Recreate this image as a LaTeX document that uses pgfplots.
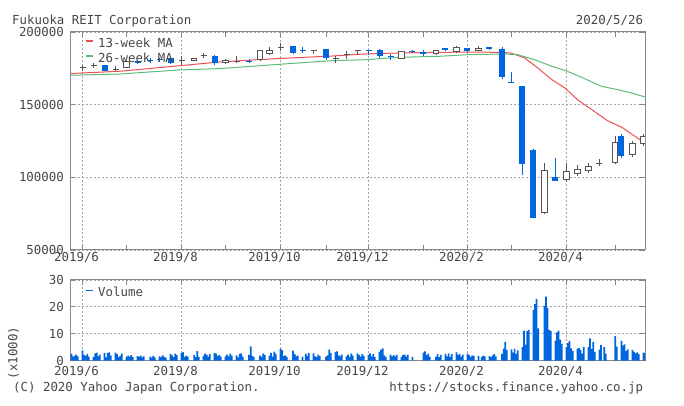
\documentclass[border=0pt]{standalone}
\usepackage{pgfplots}
\pgfplotsset{compat=1.18}
\usepackage{pgfplotstable}
\usepackage{fontspec}
\setmainfont{DejaVu Sans Mono}
\definecolor{cblue}{RGB}{0,102,221}
\definecolor{cgray}{RGB}{85,85,85}
\definecolor{cred}{RGB}{236,80,80}
\definecolor{cgreen}{RGB}{90,190,120}
\definecolor{framec}{RGB}{136,136,136}
\definecolor{gridc}{RGB}{165,165,165}
\definecolor{txt}{RGB}{70,70,70}
\newcommand\cf{\fontsize{12.4}{14}\selectfont}

% weekly candles, values in thousands of yen; d = days since 2019-06-03
\pgfplotstableread{
d open high low close
14 177.1 177.3 173.2 173.4
35 180.0 180.9 177.9 178.5
43 180.6 182.1 178.7 179.8
49 181.3 181.8 179.5 180.5
56 182.0 182.6 178.0 178.9
84 183.3 184.0 177.5 178.7
106 180.2 181.6 178.7 179.4
134 190.2 190.4 185.2 185.5
140 187.8 189.5 185.5 187.0
155 188.3 188.5 181.0 182.1
182 187.8 187.8 184.4 187.0
189 187.8 188.3 182.1 183.3
196 183.7 184.9 180.9 182.9
210 186.9 187.4 185.5 186.1
217 186.0 187.8 183.3 185.2
231 188.7 189.0 186.7 187.9
245 189.0 189.3 186.5 186.7
259 189.7 189.7 187.4 188.6
267 188.5 189.5 167.5 168.8
273 165.8 172.7 164.7 164.9
280 162.8 162.8 101.8 109.2
287 119.0 119.5 71.8 72.0
301 100.4 113.5 97.2 97.7
343 128.3 129.8 113.5 114.5
}\bluec

\pgfplotstableread{
d open high low close
28 175.7 180.0 175.5 179.8
71 180.4 182.3 180.0 181.9
91 178.9 181.3 178.3 180.5
113 181.0 187.3 180.3 187.1
119 185.5 189.5 184.0 187.3
203 182.1 187.1 181.8 186.7
225 185.0 187.4 184.4 187.1
238 186.7 190.2 185.5 189.0
252 187.1 190.2 186.7 188.5
294 75.7 110.0 74.8 105.0
308 98.6 110.0 97.0 103.9
315 102.8 108.5 100.9 105.5
322 105.0 110.0 102.8 107.3
339 110.0 128.3 109.2 123.7
350 115.6 125.2 113.8 123.6
357 123.0 129.5 121.5 128.3
}\hollowc

\pgfplotstableread{
d open high low close
0 175.4 177.5 173.0 176.2
7 176.7 178.7 175.2 177.5
21 173.6 176.4 173.2 174.4
63 179.9 183.3 177.5 180.7
77 183.6 185.5 182.1 184.4
98 179.4 183.3 178.7 180.2
126 189.1 192.4 187.1 189.9
147 187.0 187.8 184.9 187.8
161 181.2 183.3 178.7 182.0
168 184.0 186.7 181.6 184.8
175 186.7 187.8 184.0 187.5
329 109.3 112.4 107.8 110.1
}\dojic

\pgfplotsset{
  chart/.style={
    scale only axis, width=575pt, xmin=-8, xmax=358,
    axis line style={draw=framec, line width=1pt},
    every tick/.style={draw=framec, line width=0.8pt},
    major tick length=5pt, minor tick length=5pt,
    tick align=inside,
    xtick={0,63,126,182,245,308},
    xticklabels={2019/6,2019/8,2019/10,2019/12,2020/2,2020/4},
    minor xtick={28,91,155,217,273,339},
    xmajorgrids=true, ymajorgrids=true,
    major grid style={draw=gridc, line width=0.8pt, dash pattern=on 1.5pt off 2.5pt},
    tick label style={font=\cf, text=txt},
    xticklabel style={inner sep=0pt, anchor=north, xshift=-6pt},
    yticklabel style={inner sep=0pt, anchor=east, xshift=-6pt},
    /pgf/number format/assume math mode=true,
    legend style={draw=none, fill=none, at={(rel axis cs:0,1)}, anchor=north west,
      font=\cf, text=txt, inner sep=0pt, outer sep=0pt, row sep=3pt,
      nodes={inner xsep=5pt, inner ysep=0pt, text height=9pt, text depth=3pt}},
    legend cell align=left,
  },
  wick/.style={forget plot, draw=none, mark=none,
    error bars/.cd, y dir=plus, y explicit, error mark=none,
    error bar style={draw=#1, line width=1pt, solid}},
  body/.style 2 args={forget plot, draw=none, mark=none,
    error bars/.cd, y dir=plus, y explicit, error mark=none,
    error bar style={draw=#1, line width=#2, solid}},
}

\begin{document}
\begin{tikzpicture}
\useasboundingbox (0,0) rectangle (684pt,406pt);

\begin{axis}[chart, at={(70pt,156pt)}, anchor=south west, height=218pt,
  ymin=50, ymax=200, ytick={50,100,150,200},
  yticklabels={50000,100000,150000,200000},
  xticklabel style={yshift=-2pt},
  legend style={xshift=15pt, yshift=-6.5pt},
  legend image code/.code={\draw[#1, line width=1.2pt] (0pt,3.5pt) -- (7pt,3.5pt);}]
\addplot[cred, line width=1pt] coordinates {
(-8,171.4)(23.7,173.0)(61.9,176.8)(87.4,179.4)(125.6,181.8)(159.3,183.5)
(179.6,184.9)(201.9,185.6)(227.4,186.0)(252.8,186.2)(268.7,185.9)(273.2,185.3)
(281.5,182.1)(289.8,175.2)(298.7,167.2)(307,161.5)(315.3,153.2)(324.2,146.5)
(334.4,138.8)(343.3,134.4)(351.6,128.2)(358,123.6)};
\addlegendentry{13-week MA}
\addplot[cgreen, line width=1pt] coordinates {
(-8,170.2)(23.7,171.1)(61.9,173.9)(87.4,174.8)(125.6,177.8)(159.3,180.3)
(179.6,180.9)(201.9,182.6)(227.4,183.3)(245.2,184.4)(268.7,184.9)(277,184.4)
(287.8,180.9)(298.7,176.4)(308,173.2)(317.7,168.8)(330.4,162.6)(340.6,160.3)
(349.5,158.0)(358,155.3)};
\addlegendentry{26-week MA}
% wicks
\addplot[wick=cblue] table[x=d, y=low, y error plus expr=\thisrow{high}-\thisrow{low}] {\bluec};
\addplot[wick=cgray] table[x=d, y=low, y error plus expr=\thisrow{high}-\thisrow{low}] {\hollowc};
\addplot[wick=cgray] table[x=d, y=low, y error plus expr=\thisrow{high}-\thisrow{low}] {\dojic};
% bodies
\addplot[body={cblue}{6pt}] table[x=d, y=close, y error plus expr=\thisrow{open}-\thisrow{close}] {\bluec};
\addplot[body={cgray}{6.6pt}] table[x=d, y expr=\thisrow{open}-0.344, y error plus expr=\thisrow{close}-\thisrow{open}+0.688] {\hollowc};
\addplot[body={white}{4.6pt}] table[x=d, y expr=\thisrow{open}+0.344, y error plus expr=\thisrow{close}-\thisrow{open}-0.688] {\hollowc};
\addplot[body={cgray}{6pt}] table[x=d, y=open, y error plus expr=\thisrow{close}-\thisrow{open}] {\dojic};
\end{axis}

\begin{axis}[chart, at={(70pt,45.3pt)}, anchor=south west, height=80.7pt,
  ymin=0, ymax=30, ytick={0,10,20,30}, yticklabels={0,10,20,30},
  xticklabel style={yshift=-5pt},
  legend style={xshift=15pt, yshift=-8pt},
  legend image code/.code={\draw[cblue, line width=1.2pt] (0pt,3.5pt) -- (7pt,3.5pt);}]
\addplot[ybar, bar width=1.1, fill=cblue, draw=none] coordinates {
(-7,2.6)(-6,1.5)(-5,1.9)(-4,2.3)(-3,1.6)
(0,3.8)(1,2.2)(2,1.7)(3,2.4)(4,1.5)
(7,1.4)(8,2.7)(9,3.0)(10,1.6)(11,2.3)
(14,2.9)(15,1.2)(16,2.8)(17,3.1)(18,1.9)
(21,3.0)(22,2.4)(23,1.3)(24,1.8)(25,2.6)
(28,1.2)(29,1.9)(30,1.5)(31,2.1)(32,1.3)
(35,1.7)(36,1.4)(37,1.9)(38,1.2)(39,1.6)
(43,1.5)(44,1.1)(45,1.8)(46,1.2)
(49,1.6)(50,1.3)(51,2.0)(52,1.4)(53,1.1)
(56,2.4)(57,2.0)(58,1.3)(59,2.6)(60,2.1)
(63,2.8)(64,3.2)(65,1.4)(66,1.9)(67,1.5)
(71,2.2)(72,1.3)(73,3.6)(74,1.4)
(77,1.8)(78,2.6)(79,2.3)(80,1.5)(81,2.4)
(84,2.8)(85,2.6)(86,1.7)(87,2.1)(88,1.5)
(91,1.3)(92,2.3)(93,1.6)(94,2.6)(95,1.9)
(98,2.0)(99,1.2)(100,2.5)(101,2.7)(102,1.5)
(106,2.2)(107,5.3)(108,1.8)(109,1.4)
(113,1.9)(114,1.4)(115,2.6)(116,2.2)
(119,1.8)(120,2.9)(121,1.5)(122,3.4)(123,2.5)
(126,4.5)(127,3.9)(128,1.7)(129,2.0)(130,1.4)
(134,3.7)(135,2.4)(136,1.6)(137,1.9)
(140,1.5)(142,2.5)(143,1.8)(144,2.9)
(147,2.7)(148,1.6)(149,1.3)(150,2.3)(151,1.7)
(155,1.4)(156,2.0)(157,4.1)(158,2.8)
(161,3.2)(162,3.5)(163,2.0)(164,1.6)(165,2.3)
(168,1.6)(169,2.3)(170,1.4)(171,2.6)(172,1.9)
(175,2.7)(176,2.1)(177,1.5)(178,2.4)(179,1.8)
(182,2.2)(183,2.7)(184,1.6)(185,2.4)(186,1.3)
(189,3.2)(190,4.1)(191,4.6)(192,2.0)(193,1.4)
(196,2.3)(197,1.6)(198,2.1)(199,1.5)(200,2.2)
(203,1.4)(204,2.1)(205,2.3)(206,1.5)(207,2.3)
(210,1.4)
(217,3.0)(218,3.5)(219,2.1)(220,2.6)(221,1.4)
(225,1.5)(226,2.4)(227,1.3)(228,2.2)
(231,2.5)(232,1.6)(233,2.7)(234,1.4)(235,2.4)
(238,3.1)(239,2.2)(240,2.5)(241,1.5)(242,2.3)
(245,2.6)(246,2.1)(247,1.4)(248,2.0)(249,1.7)
(252,1.8)(254,1.4)(255,1.9)(256,1.6)
(259,1.7)(260,1.3)(261,2.0)(262,2.4)(263,1.6)
(267,2.5)(268,4.5)(269,7.0)(270,4.0)
(273,4.2)(274,3.0)(275,4.5)(276,2.5)(277,3.8)
(280,5.0)(281,11.2)(282,6.0)(283,11.0)(284,11.5)
(287,18.8)(288,21.0)(289,23.0)(290,12.0)
(294,20.5)(295,23.8)(296,19.5)(297,11.5)(298,11.0)
(301,7.5)(302,10.5)(303,11.2)(304,7.8)(305,6.3)
(308,5.0)(309,6.5)(310,7.4)(311,4.6)(312,3.6)
(315,4.5)(316,4.7)(317,3.9)(318,2.6)(319,5.1)
(322,5.0)(323,8.3)(324,4.4)(325,7.0)(326,3.3)
(329,4.1)(330,5.8)(332,5.0)(333,2.6)
(339,9.1)(340,5.2)
(343,7.4)(344,5.6)(345,6.1)(346,3.6)(347,4.2)
(350,3.9)(351,3.3)(352,2.7)(353,3.1)(354,2.4)
(357,3.0)(358,2.9)};
\addlegendentry{Volume}
\end{axis}

\node[anchor=base west, font=\cf, text=txt, inner sep=0pt] at (12pt,381pt) {Fukuoka REIT Corporation};
\node[anchor=base east, font=\cf, text=txt, inner sep=0pt] at (643.3pt,381pt) {2020/5/26};
\node[rotate=90, font=\cf, text=txt, inner sep=0pt] at (13.5pt,53pt) {(x1000)};
\node[anchor=base west, font=\cf, text=txt, inner sep=0pt] at (13pt,14pt) {(C) 2020 Yahoo Japan Corporation.};
\node[anchor=base east, font=\cf, text=txt, inner sep=0pt] at (643.3pt,14pt) {https://stocks.finance.yahoo.co.jp};
\end{tikzpicture}
\end{document}
